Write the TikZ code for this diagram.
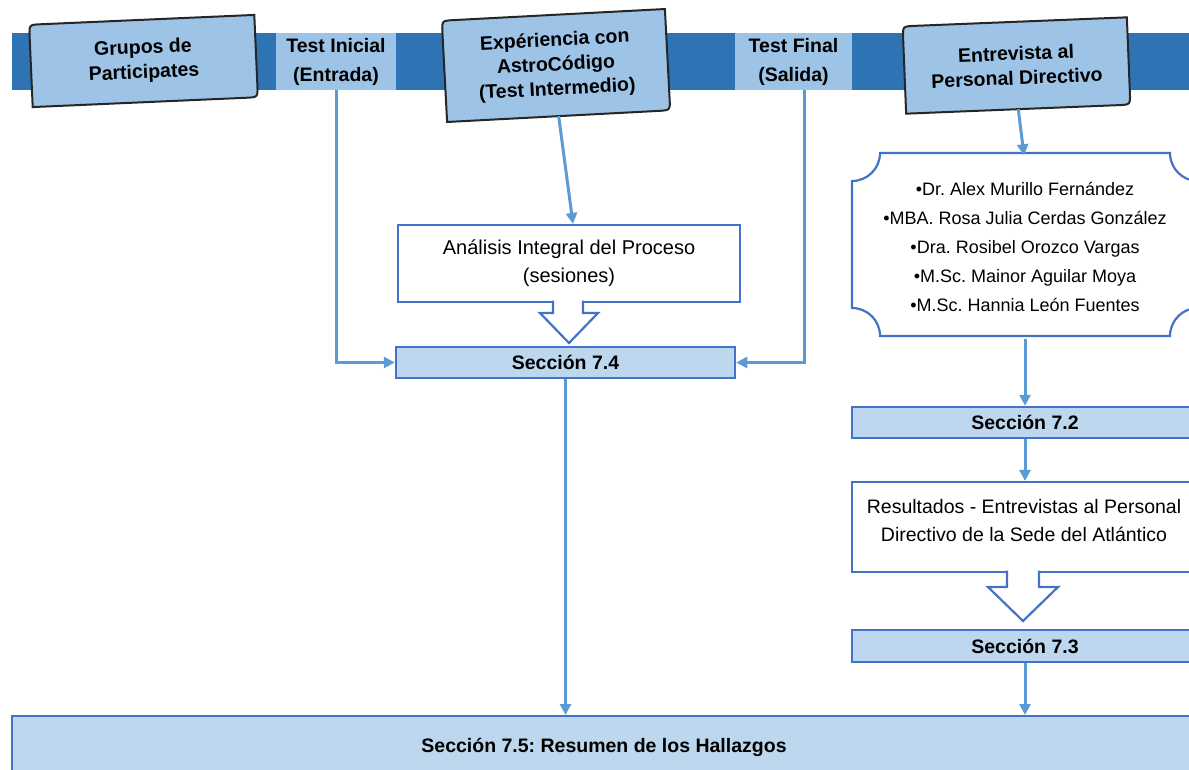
\documentclass[tikz,border=0pt]{standalone}
\usepackage{fontspec}
\setmainfont{Liberation Sans}
\usetikzlibrary{arrows.meta,calc}
\frenchspacing

\definecolor{bandblue}{HTML}{2E74B5}
\definecolor{lightblue}{HTML}{9DC3E6}
\definecolor{secfill}{HTML}{BDD7EE}
\definecolor{boxline}{HTML}{4472C4}
\definecolor{linkblue}{HTML}{5B9BD5}
\definecolor{inkgray}{HTML}{262626}

\pgfdeclarelayer{background}
\pgfsetlayers{background,main}

% outline of a tilted header box: rounded top-left and bottom-right corners
\newcommand\tiltoutline[1]{%
  \filldraw[tiltbox]
    ($(#1.north west)!12pt!(#1.south west)$) .. controls (#1.north west) .. ($(#1.north west)!12pt!(#1.north east)$)
    -- (#1.north east)
    -- ($(#1.south east)!12pt!(#1.north east)$) .. controls (#1.south east) .. ($(#1.south east)!12pt!(#1.south west)$)
    -- (#1.south west) -- cycle;}

\tikzset{
  tiltbox/.style={fill=lightblue, draw=inkgray, line width=2pt},
  headtext/.style={align=center, inner sep=0pt, text=black,
    font=\fontsize{19.5}{24.5}\selectfont\bfseries},
  toplabel/.style={fill=lightblue, align=center, inner sep=0pt, text=black,
    font=\fontsize{19.5}{29}\selectfont\bfseries},
  secbox/.style={fill=secfill, draw=boxline, line width=2.5pt, inner sep=0pt,
    text=black, font=\fontsize{19.5}{24}\selectfont\bfseries},
  whitebox/.style={fill=white, draw=boxline, line width=2.2pt, inner sep=0pt},
  boxtext/.style={align=center, inner sep=0pt, text=black},
  link/.style={draw=linkblue, line width=3pt, -{Triangle[length=11pt,width=11pt]}},
  hollowarrow/.style={fill=white, draw=boxline, line width=2.2pt, line join=miter},
}

\begin{document}
\begin{tikzpicture}[x=1pt,y=-1pt]
\useasboundingbox (0,0) rectangle (1189,769);
\clip (0,0) rectangle (1189,769);

% header band
\begin{pgfonlayer}{background}
  \fill[bandblue] (12,33) rectangle (1189,90);
\end{pgfonlayer}

% tilted header boxes
\node[headtext, rotate=2.5, minimum width=225pt, minimum height=82pt] (g1) at (143.5,61) {Grupos de\\Participates};
\node[headtext, rotate=3, minimum width=223pt, minimum height=101pt] (g2) at (556,65.5) {Expériencia con\\AstroCódigo\\(Test Intermedio)};
\node[headtext, rotate=2.3, minimum width=224pt, minimum height=87pt] (g3) at (1016.5,65.5) {Entrevista al\\Personal Directivo};
\begin{pgfonlayer}{background}
  \tiltoutline{g1}
  \tiltoutline{g2}
  \tiltoutline{g3}
\end{pgfonlayer}

% test labels on the band
\node[toplabel, minimum width=120pt, minimum height=57pt] (ti) at (336,61.5) {Test Inicial\\(Entrada)};
\node[toplabel, minimum width=117pt, minimum height=57pt] (tf) at (793.5,61.5) {Test Final\\(Salida)};

% left column
\node[whitebox, minimum width=342pt, minimum height=77pt] (ana) at (569,263.5) {};
\node[boxtext, font=\fontsize{20}{28}\selectfont] (anatxt) at (ana.center) {Análisis Integral del Proceso\\(sesiones)};
\filldraw[hollowarrow] (553,300.5) -- (553,313) -- (540,313) -- (569,343) -- (598,313) -- (583,313) -- (583,300.5);
\node[secbox, minimum width=339pt, minimum height=31pt] (s74) at (565.5,362.5) {Sección 7.4};

% right column
\node[boxtext, minimum width=346pt, minimum height=183pt,
      font=\fontsize{18}{29}\selectfont] (plq) at (1025,247) {%
  •Dr. Alex Murillo Fernández\\
  •MBA. Rosa Julia Cerdas González\\
  •Dra. Rosibel Orozco Vargas\\
  •M.Sc. Mainor Aguilar Moya\\
  •M.Sc. Hannia León Fuentes};
\begin{pgfonlayer}{background}
  \filldraw[fill=white, draw=boxline, line width=2.2pt]
    (880,153) -- (1170,153) .. controls (1170,168.5) and (1182.5,181) .. (1198,181)
    -- (1198,308) .. controls (1182.5,308) and (1170,320.5) .. (1170,336)
    -- (880,336) .. controls (880,320.5) and (867.5,308) .. (852,308)
    -- (852,181) .. controls (867.5,181) and (880,168.5) .. (880,153) -- cycle;
\end{pgfonlayer}

\node[secbox, minimum width=346pt, minimum height=31pt] (s72) at (1025,422.5) {Sección 7.2};
\node[whitebox, minimum width=346pt, minimum height=90pt] (res) at (1025,527) {};
\node[boxtext, font=\fontsize{19.5}{28}\selectfont] (restxt) at (1024,521) {Resultados - Entrevistas al Personal\\Directivo de la Sede del Atlántico};
\filldraw[hollowarrow] (1007,570.5) -- (1007,587) -- (988,587) -- (1023,621) -- (1058,587) -- (1039,587) -- (1039,570.5);
\node[secbox, minimum width=346pt, minimum height=32pt] (s73) at (1025,646) {Sección 7.3};

% summary bar
\node[secbox, line width=2pt, minimum width=1184pt, minimum height=62pt] (sum) at (604,747) {Sección 7.5: Resumen de los Hallazgos};

% connectors
\draw[link] (ti.south) |- (s74.west);
\draw[link] ([xshift=11pt]tf.south) |- (s74.east);
\draw[link] (g2.south) -- ([xshift=4pt]ana.north);
\draw[link] (g3.south) -- ([xshift=-1pt]plq.north);
\draw[link] (plq.south) -- (s72.north);
\draw[link] (s72.south) -- (res.north);
\draw[link] (s74.south) -- (s74.south |- sum.north);
\draw[link] (s73.south) -- (s73.south |- sum.north);
\end{tikzpicture}
\end{document}
